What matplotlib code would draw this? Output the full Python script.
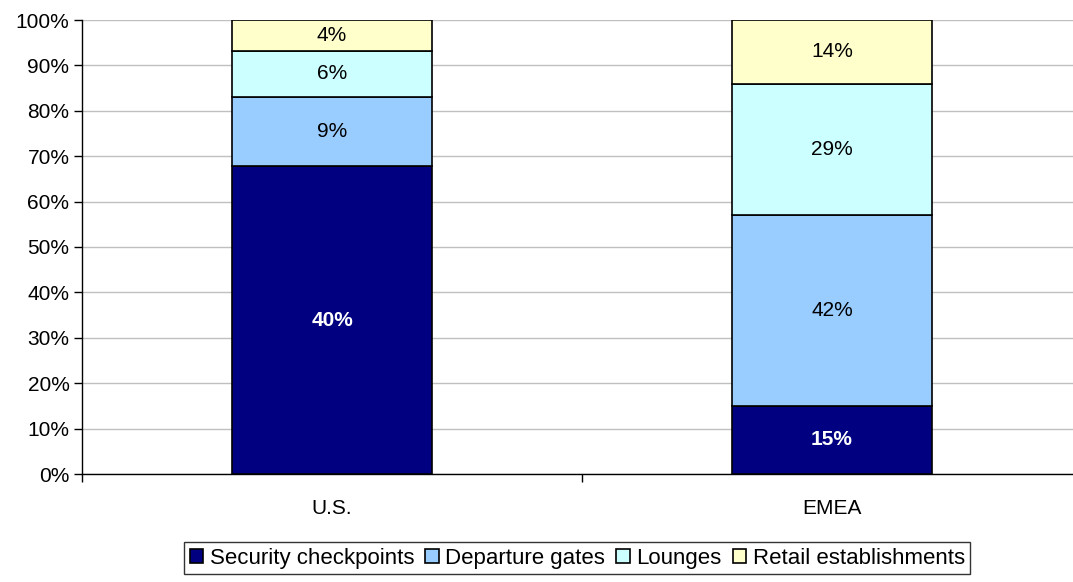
import matplotlib
matplotlib.use("Agg")
import matplotlib.pyplot as plt
import numpy as np
from matplotlib.ticker import FixedLocator, PercentFormatter

categories = ["U.S.", "EMEA"]
series_names = ["Security checkpoints", "Departure gates", "Lounges", "Retail establishments"]
security = [40, 15]
departure = [9, 42]
lounges = [6, 29]
retail = [4, 14]
colors = ["#000080", "#99CCFF", "#CCFFFF", "#FFFFCC"]
label_colors = ["white", "black", "black", "black"]
label_weights = ["bold", "normal", "normal", "normal"]

plt.rcParams['font.family'] = ['Liberation Sans', 'DejaVu Sans']

series = np.array([security, departure, lounges, retail], dtype=float)
totals = series.sum(axis=0)
shares = series / totals * 100

fig = plt.figure(figsize=(10.73, 5.82), dpi=100)
ax = fig.add_axes([82/1073, 1 - 474/582, 1 - 82/1073, (474 - 20)/582])

x = np.arange(len(categories))
bottom = np.zeros(len(categories))
handles = []
for i, name in enumerate(series_names):
    b = ax.bar(x, shares[i], 0.4, bottom=bottom, color=colors[i], edgecolor="black",
               linewidth=1.2, label=name, zorder=3)
    handles.append(b)
    for j in range(len(categories)):
        ax.text(x[j], bottom[j] + shares[i][j] / 2, f"{int(series[i][j])}%",
                ha="center", va="center", fontsize=15, color=label_colors[i],
                fontweight=label_weights[i], zorder=4)
    bottom += shares[i]

ax.set_xlim(-0.5, 1.482)
ax.set_ylim(0, 100)
ax.yaxis.set_major_locator(FixedLocator(np.arange(0, 101, 10)))
ax.yaxis.set_major_formatter(PercentFormatter(decimals=0))
ax.yaxis.grid(True, color="#C0C0C0", linewidth=1, zorder=0)
ax.set_xticks(x)
ax.set_xticklabels(categories)
ax.xaxis.set_minor_locator(FixedLocator([-0.5, 0.5, 1.5]))
ax.tick_params(axis="x", which="major", length=0, pad=18, labelsize=15)
ax.tick_params(axis="x", which="minor", length=6, width=1, direction="out")
ax.tick_params(axis="y", length=6, width=1, direction="out", labelsize=15, pad=3)
for s in ["top", "right"]:
    ax.spines[s].set_visible(False)
ax.spines["left"].set_linewidth(1)
ax.spines["bottom"].set_linewidth(1)

leg = fig.legend(handles=handles, loc="lower center", bbox_to_anchor=(0.538, -0.006), ncol=4,
                 frameon=True, fontsize=16, handlelength=0.6, handleheight=0.6,
                 handletextpad=0.3, columnspacing=0.5, borderpad=0.25, fancybox=False,
                 edgecolor="black")
leg.get_frame().set_linewidth(1)

fig.savefig("out.png", dpi=100)
